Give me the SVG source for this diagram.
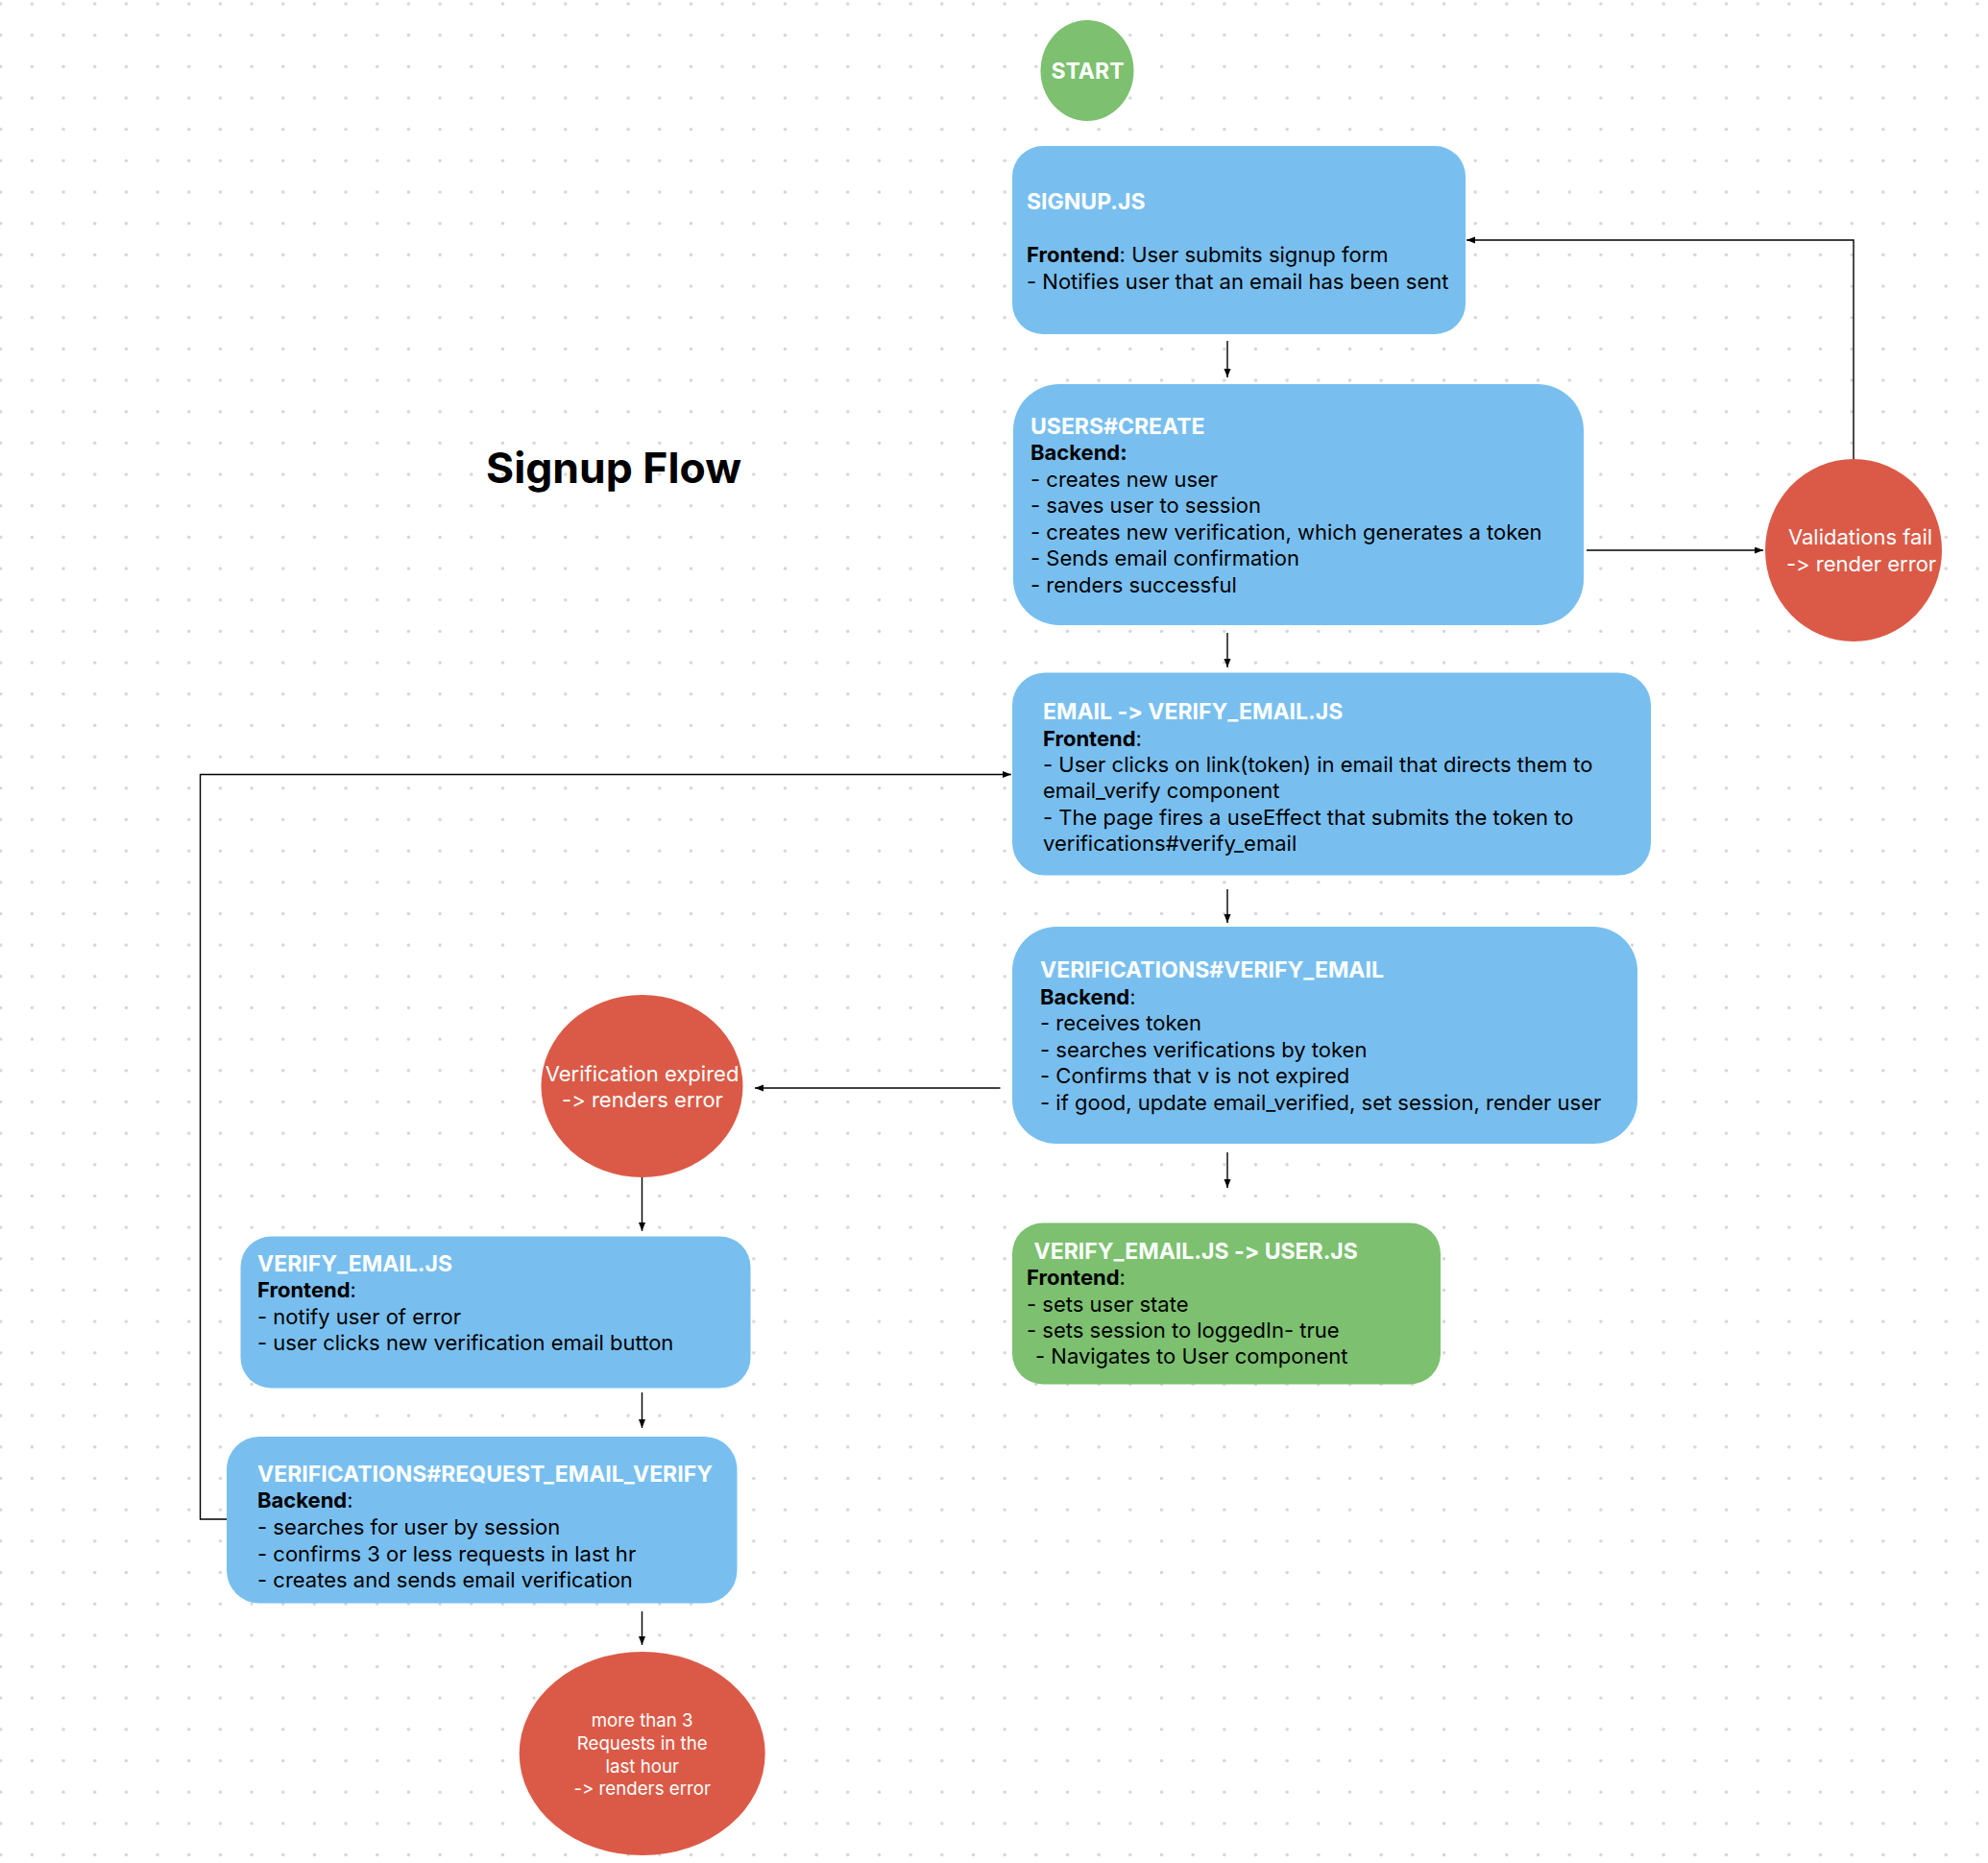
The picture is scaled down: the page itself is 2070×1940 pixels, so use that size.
<svg xmlns="http://www.w3.org/2000/svg" width="2070" height="1940" viewBox="0 0 2070 1940">
<defs>
<pattern id="dots" patternUnits="userSpaceOnUse" x="-15.63" y="-12.33" width="32.67" height="32.67">
<circle cx="16.33" cy="16.33" r="1.7" fill="#d4d4d4"/>
</pattern>
<marker id="arrow" markerUnits="userSpaceOnUse" markerWidth="10" markerHeight="8" refX="9" refY="3.5" orient="auto">
<path d="M0,0 L9,3.5 L0,7 z" fill="#000"/>
</marker>
</defs>
<style>
.t{font-family:Inter,"Liberation Sans",sans-serif;font-size:22px;fill:#000;font-variant-ligatures:none;font-feature-settings:"calt" 0,"liga" 0}
.h{font-weight:700;fill:#fff;font-size:23px}
.b{font-weight:700}
.w{fill:#fff}
.c{text-anchor:middle}
.s{font-size:18.7px}
.blue{fill:#78bff0}
.green{fill:#7cc070}
.red{fill:#db5a47}
.conn path{stroke:#000;stroke-width:1.4;fill:none;marker-end:url(#arrow)}
</style>
<rect width="2070" height="1940" fill="#fff"/>
<rect width="2070" height="1940" fill="url(#dots)"/>

<text class="t b" x="506" y="503" style="font-size:44.5px">Signup Flow</text>

<g class="conn">
<path d="M1278,355 L1278,393"/>
<path d="M1278,659 L1278,695"/>
<path d="M1278,926 L1278,961"/>
<path d="M1278,1200 L1278,1237"/>
<path d="M1652,573 L1836,573"/>
<path d="M1930,478 L1930,250 L1527,250"/>
<path d="M1041.5,1133 L786,1133"/>
<path d="M668.5,1218 L668.5,1282"/>
<path d="M668.5,1450 L668.5,1487"/>
<path d="M236,1582 L208.5,1582 L208.5,806.5 L1053,806.5"/>
<path d="M668.5,1678 L668.5,1713"/>
</g>

<g id="start">
<ellipse class="green" cx="1132" cy="73.5" rx="48.5" ry="52.5"/>
<text class="t h c" x="1132.5" y="81.5">START</text>
</g>

<g id="signup">
<rect class="blue" x="1054" y="152" width="472" height="196" rx="32"/>
<text class="t h" x="1069" y="218">SIGNUP.JS</text>
<text class="t" x="1069" y="273"><tspan class="b">Frontend</tspan>: User submits signup form</text>
<text class="t" x="1069" y="301">- Notifies user that an email has been sent</text>
</g>

<g id="users-create">
<rect class="blue" x="1055" y="400" width="594" height="251" rx="48"/>
<text class="t h" x="1073" y="451.5">USERS#CREATE</text>
<text class="t b" x="1073" y="479">Backend:</text>
<text class="t" x="1073" y="506.5">- creates new user</text>
<text class="t" x="1073" y="534">- saves user to session</text>
<text class="t" x="1073" y="561.5">- creates new verification, which generates a token</text>
<text class="t" x="1073" y="589">- Sends email confirmation</text>
<text class="t" x="1073" y="616.5">- renders successful</text>
</g>

<g id="validations-fail">
<ellipse class="red" cx="1930" cy="573" rx="92" ry="95"/>
<text class="t w c" x="1937" y="567">Validations fail</text>
<text class="t w c" x="1938" y="595">-&gt; render error</text>
</g>

<g id="email-verify">
<rect class="blue" x="1054" y="700.5" width="665" height="211" rx="34"/>
<text class="t h" x="1086" y="749">EMAIL -&gt; VERIFY_EMAIL.JS</text>
<text class="t" x="1086" y="776.5"><tspan class="b">Frontend</tspan>:</text>
<text class="t" x="1086" y="804">- User clicks on link(token) in email that directs them to</text>
<text class="t" x="1086" y="831">email_verify component</text>
<text class="t" x="1086" y="858.5">- The page fires a useEffect that submits the token to</text>
<text class="t" x="1086" y="886">verifications#verify_email</text>
</g>

<g id="verifications-verify-email">
<rect class="blue" x="1054" y="965" width="651" height="226" rx="46"/>
<text class="t h" x="1083" y="1018">VERIFICATIONS#VERIFY_EMAIL</text>
<text class="t" x="1083" y="1045.5"><tspan class="b">Backend</tspan>:</text>
<text class="t" x="1083" y="1073">- receives token</text>
<text class="t" x="1083" y="1100.5">- searches verifications by token</text>
<text class="t" x="1083" y="1128">- Confirms that v is not expired</text>
<text class="t" x="1083" y="1155.5">- if good, update email_verified, set session, render user</text>
</g>

<g id="verify-to-user">
<rect class="green" x="1054" y="1273.5" width="446" height="168" rx="32"/>
<text class="t h" x="1076.5" y="1311">VERIFY_EMAIL.JS -&gt; USER.JS</text>
<text class="t" x="1069" y="1338"><tspan class="b">Frontend</tspan>:</text>
<text class="t" x="1069" y="1365.5">- sets user state</text>
<text class="t" x="1069" y="1393">- sets session to loggedIn- true</text>
<text class="t" x="1078" y="1420">- Navigates to User component</text>
</g>

<g id="verification-expired">
<ellipse class="red" cx="668.5" cy="1131" rx="105" ry="95"/>
<text class="t w c" x="668.5" y="1126">Verification expired</text>
<text class="t w c" x="669" y="1153">-&gt; renders error</text>
</g>

<g id="verify-email-js">
<rect class="blue" x="250.5" y="1287.5" width="531" height="158" rx="32"/>
<text class="t h" x="268" y="1324">VERIFY_EMAIL.JS</text>
<text class="t" x="268" y="1351"><tspan class="b">Frontend</tspan>:</text>
<text class="t" x="268" y="1379">- notify user of error</text>
<text class="t" x="268" y="1406">- user clicks new verification email button</text>
</g>

<g id="request-email-verify">
<rect class="blue" x="236" y="1496" width="531.5" height="173.5" rx="34"/>
<text class="t h" x="268" y="1542.5">VERIFICATIONS#REQUEST_EMAIL_VERIFY</text>
<text class="t" x="268" y="1570"><tspan class="b">Backend</tspan>:</text>
<text class="t" x="268" y="1598">- searches for user by session</text>
<text class="t" x="268" y="1625.5">- confirms 3 or less requests in last hr</text>
<text class="t" x="268" y="1653">- creates and sends email verification</text>
</g>

<g id="too-many-requests">
<ellipse class="red" cx="668.7" cy="1826" rx="128" ry="106"/>
<text class="t w c s" x="668.7" y="1797.5">more than 3</text>
<text class="t w c s" x="668.7" y="1821.5">Requests in the</text>
<text class="t w c s" x="668.7" y="1845.5">last hour</text>
<text class="t w c s" x="668.7" y="1869">-&gt; renders error</text>
</g>
</svg>
